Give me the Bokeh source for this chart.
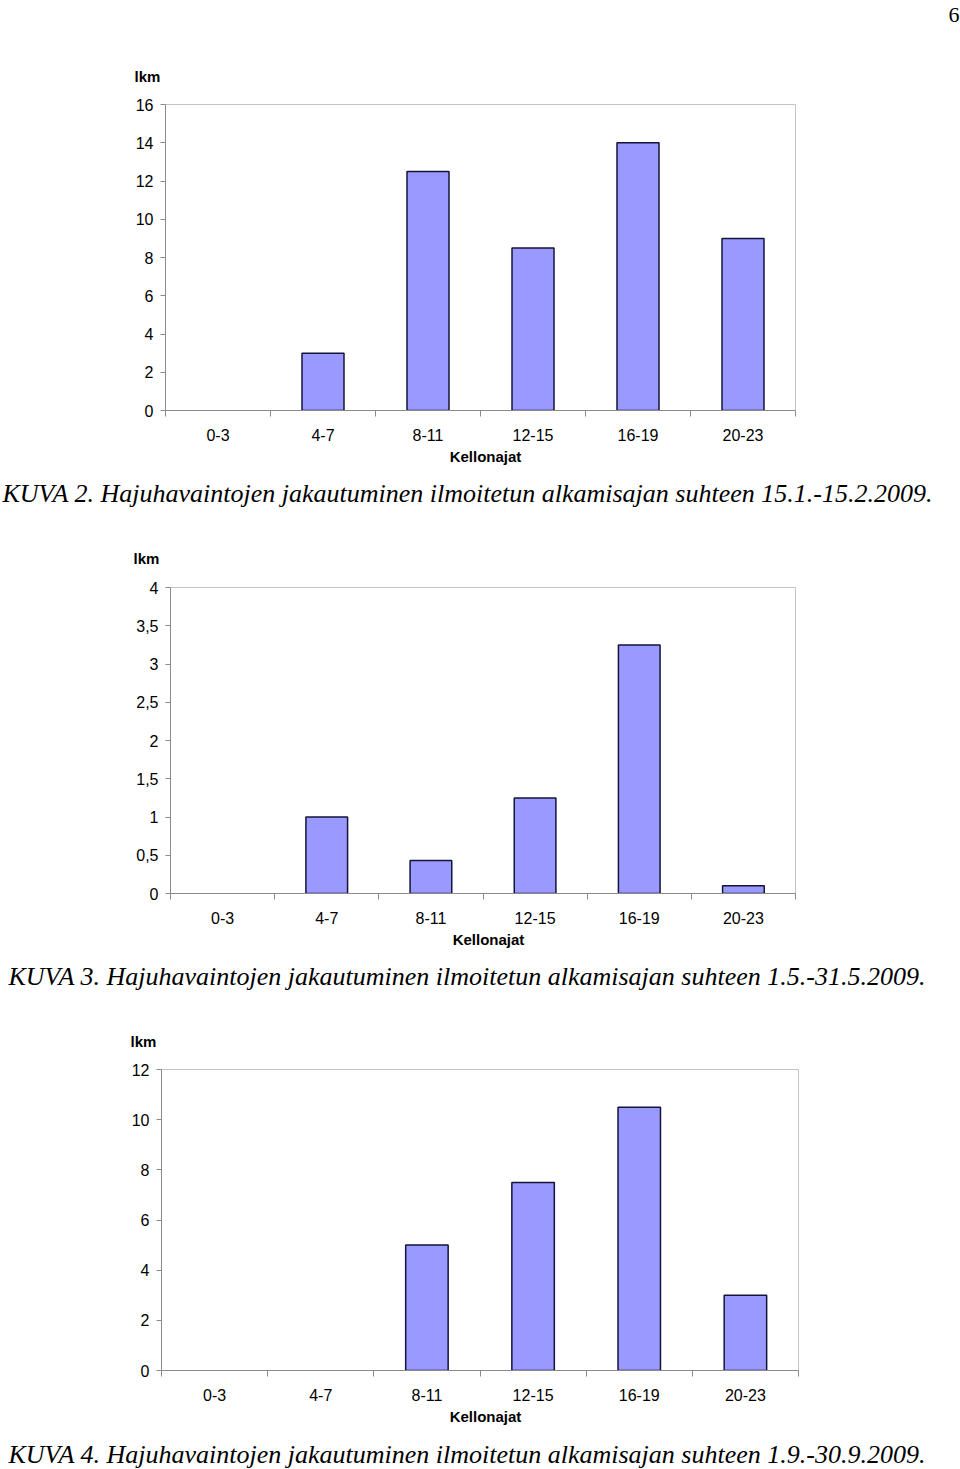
from bokeh.plotting import figure
from bokeh.models import FixedTicker, Label, Range1d
from bokeh.embed import file_html
from bokeh.resources import INLINE

# ---------------- data ----------------
categories = ["0-3", "4-7", "8-11", "12-15", "16-19", "20-23"]

values_kuva2 = [0, 3, 12.5, 8.5, 14, 9]
values_kuva3 = [0, 1, 0.43, 1.25, 3.25, 0.1]
values_kuva4 = [0, 0, 5, 7.5, 10.5, 3]

yticks_kuva2 = [0, 2, 4, 6, 8, 10, 12, 14, 16]
ylabels_kuva2 = ["0", "2", "4", "6", "8", "10", "12", "14", "16"]
yticks_kuva3 = [0, 0.5, 1, 1.5, 2, 2.5, 3, 3.5, 4]
ylabels_kuva3 = ["0", "0,5", "1", "1,5", "2", "2,5", "3", "3,5", "4"]
yticks_kuva4 = [0, 2, 4, 6, 8, 10, 12]
ylabels_kuva4 = ["0", "2", "4", "6", "8", "10", "12"]

caption_kuva2 = "KUVA 2. Hajuhavaintojen jakautuminen ilmoitetun alkamisajan suhteen 15.1.-15.2.2009."
caption_kuva3 = "KUVA 3. Hajuhavaintojen jakautuminen ilmoitetun alkamisajan suhteen 1.5.-31.5.2009."
caption_kuva4 = "KUVA 4. Hajuhavaintojen jakautuminen ilmoitetun alkamisajan suhteen 1.9.-30.9.2009."
y_title = "lkm"
x_title = "Kellonajat"
page_number = "6"

# ---------------- style ----------------
W = 960
BAR_FILL = "#9999FF"
BAR_LINE = "#14143a"
AXIS_COLOR = "#8a8a8a"
OUTLINE_COLOR = "#c4c4c4"
SANS = "Liberation Sans"
SERIF = "Liberation Serif"
CAPTION_SIZE = "26px"


def text_band(top, bottom, items):
    """A figure whose frame is the whole band; labels placed in page pixels."""
    p = figure(width=W, height=bottom - top, x_range=Range1d(0, W),
               y_range=Range1d(bottom, top), output_backend="svg",
               toolbar_location=None, x_axis_location=None, y_axis_location=None,
               min_border=0)
    p.min_border_left = p.min_border_right = p.min_border_top = p.min_border_bottom = 0
    p.outline_line_color = None
    p.xgrid.visible = False
    p.ygrid.visible = False
    p.background_fill_color = "white"
    p.border_fill_color = "white"
    for it in items:
        p.add_layout(Label(text_color="black", text_baseline="alphabetic", **it))
    return p


def chart(values, yticks, ylabels, top, bottom, frame_left, frame_right, frame_top, frame_bottom):
    n = len(categories)
    p = figure(width=W, height=bottom - top,
               x_range=Range1d(0, n), y_range=Range1d(0, yticks[-1]),
               output_backend="svg", toolbar_location=None,
               min_border_left=frame_left, min_border_right=W - frame_right,
               min_border_top=frame_top - top, min_border_bottom=bottom - frame_bottom)
    p.background_fill_color = "white"
    p.border_fill_color = "white"
    p.outline_line_color = OUTLINE_COLOR
    p.outline_line_width = 1
    p.xgrid.visible = False
    p.ygrid.visible = False

    centers = [i + 0.5 for i in range(n)]
    bx = [c for c, v in zip(centers, values) if v > 0]
    bt = [v for v in values if v > 0]
    p.vbar(x=bx, top=bt, bottom=0, width=0.4, fill_color=BAR_FILL,
           line_color=BAR_LINE, line_width=1.5)

    xa = p.xaxis[0]
    xa.ticker = FixedTicker(ticks=centers, minor_ticks=list(range(n + 1)))
    xa.major_label_overrides = {c: lab for c, lab in zip(centers, categories)}
    xa.major_tick_out = 0
    xa.major_tick_in = 0
    xa.minor_tick_out = 6
    xa.minor_tick_in = 0
    xa.minor_tick_line_color = AXIS_COLOR
    xa.axis_line_color = AXIS_COLOR
    xa.major_label_text_font = SANS
    xa.major_label_text_font_size = "16px"
    xa.major_label_text_color = "black"
    xa.major_label_standoff = 12

    ya = p.yaxis[0]
    ya.ticker = FixedTicker(ticks=yticks, minor_ticks=[])
    ya.major_label_overrides = {t: lab for t, lab in zip(yticks, ylabels)}
    ya.major_tick_out = 5
    ya.major_tick_in = 0
    ya.major_tick_line_color = AXIS_COLOR
    ya.axis_line_color = AXIS_COLOR
    ya.major_label_text_font = SANS
    ya.major_label_text_font_size = "16px"
    ya.major_label_text_color = "black"
    ya.major_label_standoff = 7
    return p


def lkm(x, y):
    return dict(x=x, y=y, text=y_title, text_font=SANS, text_font_size="15px",
                text_font_style="bold", text_align="left")


def kello(x, y):
    return dict(x=x, y=y, text=x_title, text_font=SANS, text_font_size="15px",
                text_font_style="bold", text_align="center")


def cap(x, y, t):
    return dict(x=x, y=y, text=t, text_font=SERIF, text_font_size=CAPTION_SIZE,
                text_font_style="italic", text_align="left")


roots = [
    text_band(0, 90, [
        dict(x=959, y=14, text=page_number, text_font=SERIF, text_font_size="22px",
             text_align="right"),
        lkm(134, 76),
    ]),
    chart(values_kuva2, yticks_kuva2, ylabels_kuva2, 90, 448, 165, 795, 104, 410),
    text_band(448, 573, [kello(485, 456), cap(2, 493, caption_kuva2), lkm(133, 557.5)]),
    chart(values_kuva3, yticks_kuva3, ylabels_kuva3, 573, 931, 170, 795, 587, 893),
    text_band(931, 1055, [kello(488, 938.5), cap(8, 976, caption_kuva3), lkm(130, 1041)]),
    chart(values_kuva4, yticks_kuva4, ylabels_kuva4, 1055, 1408, 161, 798, 1069, 1370),
    text_band(1408, 1469, [kello(485, 1415.5), cap(8, 1453.5, caption_kuva4)]),
]

open("out.html", "w").write(file_html(roots, INLINE))
